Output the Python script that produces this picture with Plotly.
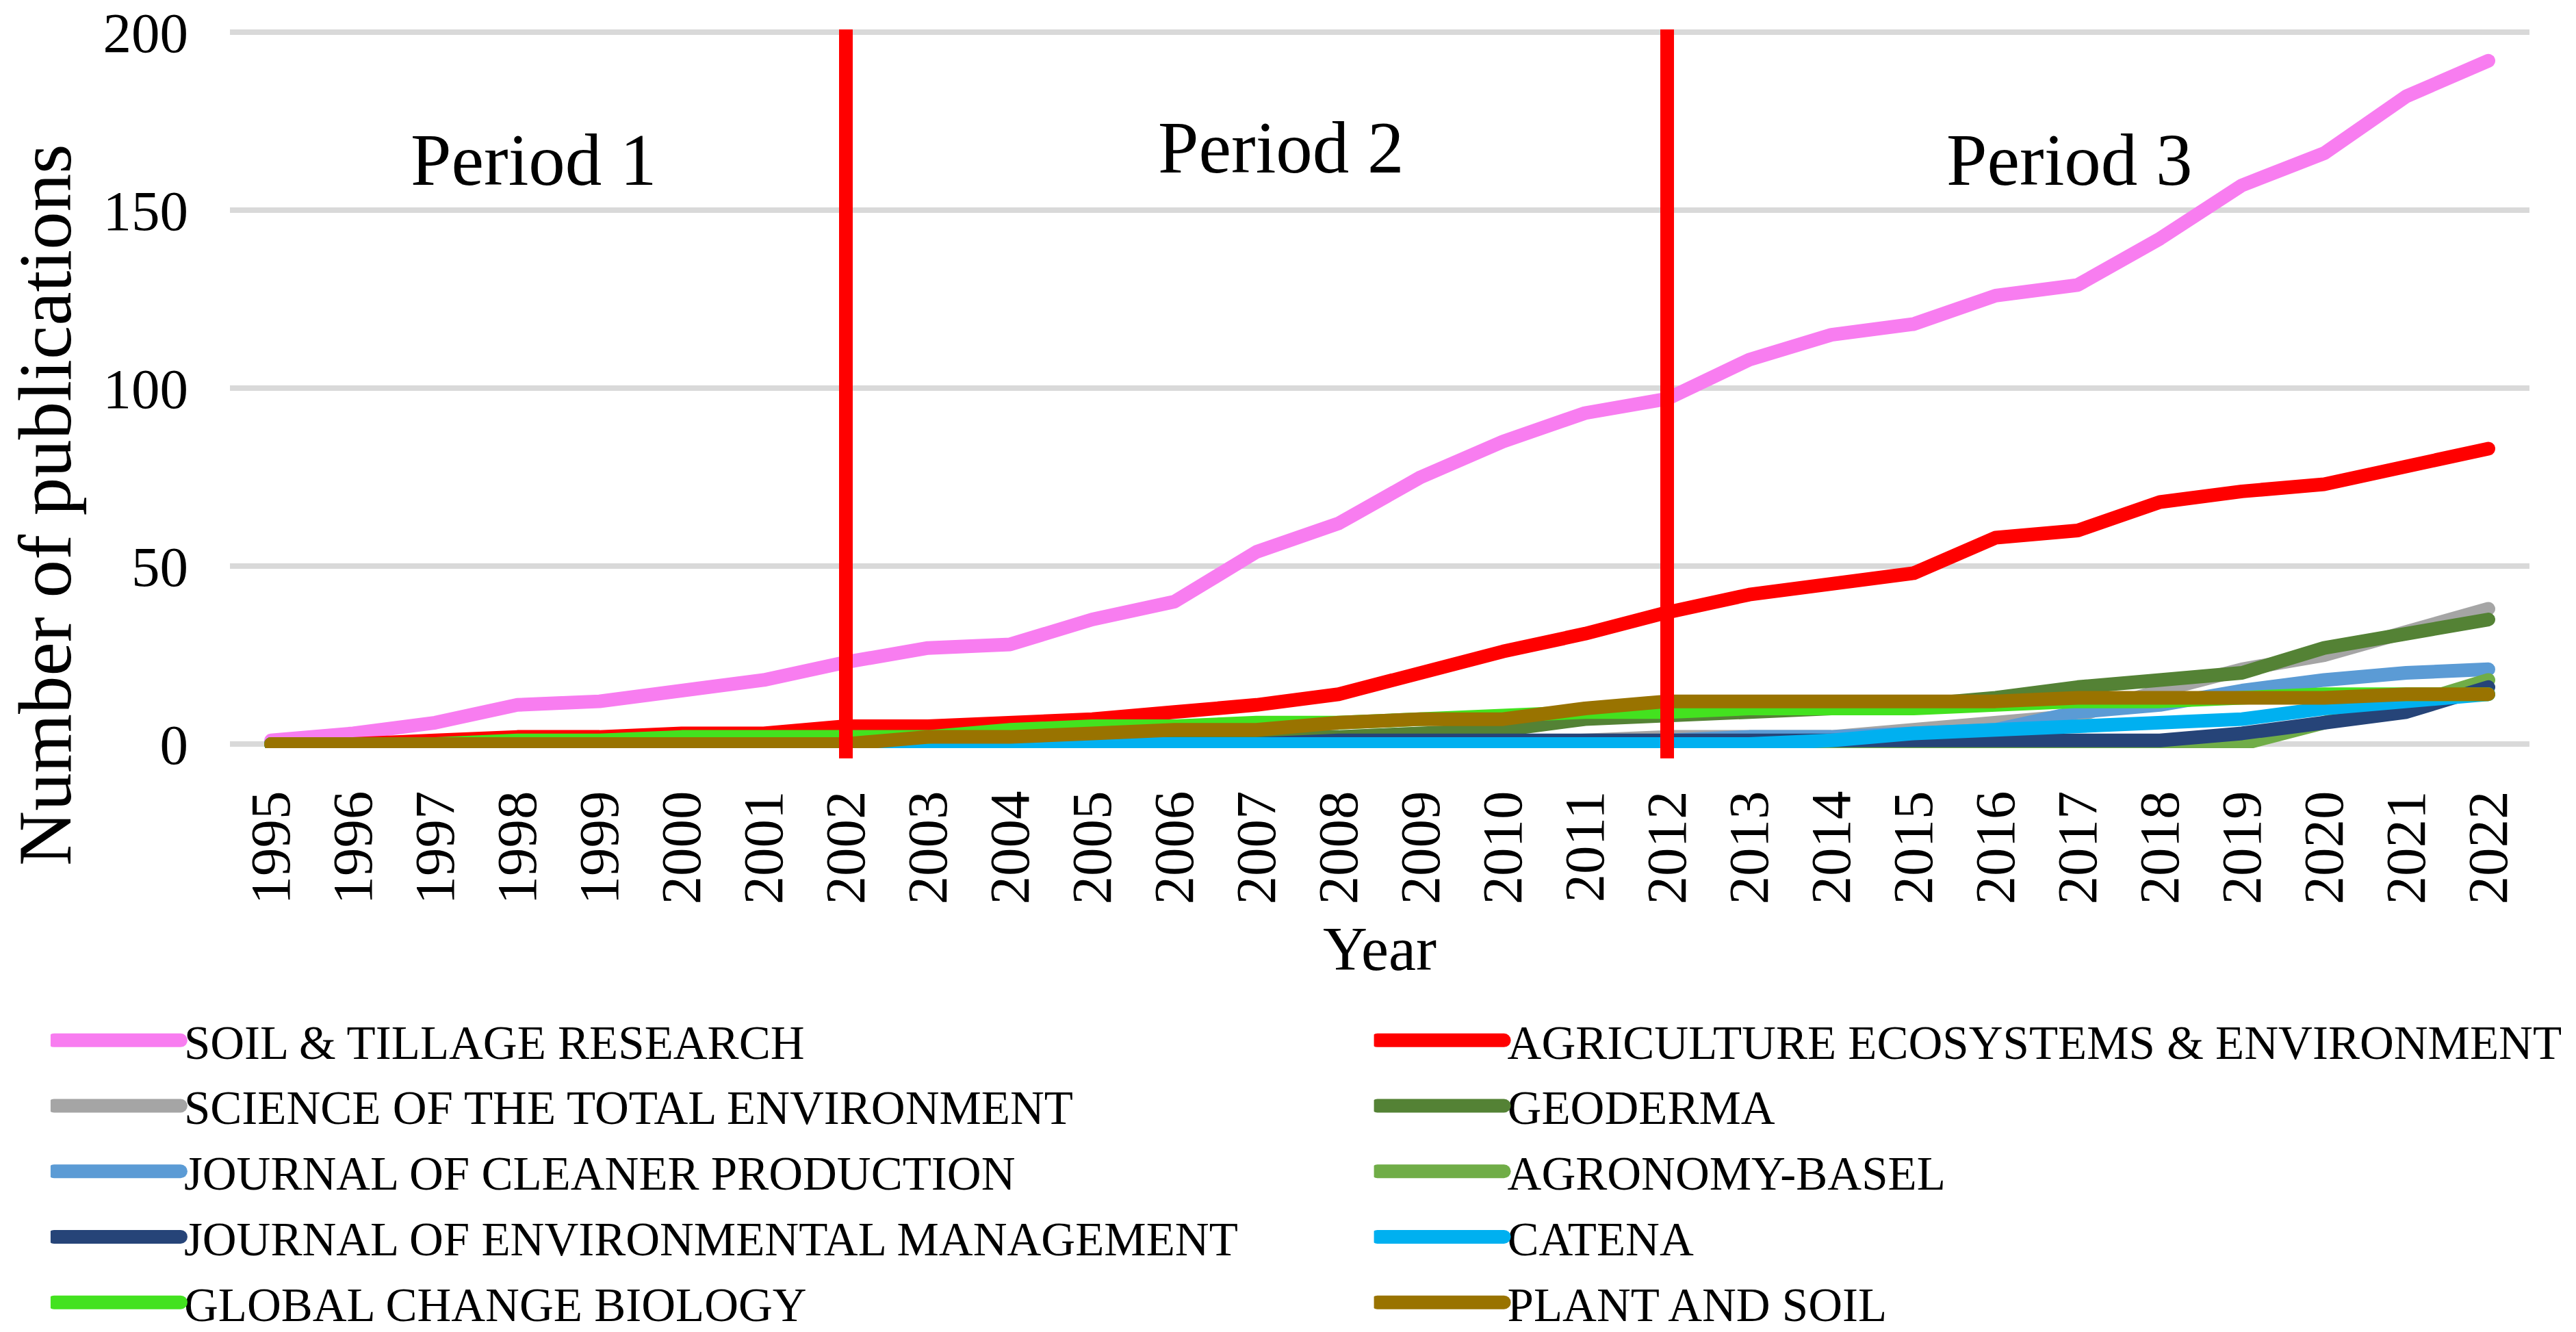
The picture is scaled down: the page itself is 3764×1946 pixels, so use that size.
import plotly.graph_objects as go

# years on the category axis
years = [1995, 1996, 1997, 1998, 1999, 2000, 2001, 2002, 2003, 2004, 2005, 2006, 2007, 2008,
         2009, 2010, 2011, 2012, 2013, 2014, 2015, 2016, 2017, 2018, 2019, 2020, 2021, 2022]

# publications per journal
soil_tillage = [1, 3, 6, 11, 12, 15, 18, 23, 27, 28, 35, 40, 54, 62,
                75, 85, 93, 97, 108, 115, 118, 126, 129, 142, 157, 166, 182, 192]
agri_eco_env = [0, 0, 1, 2, 2, 3, 3, 5, 5, 6, 7, 9, 11, 14,
                20, 26, 31, 37, 42, 45, 48, 58, 60, 68, 71, 73, 78, 83]
sci_total_env = [0, 0, 0, 0, 0, 0, 0, 0, 0, 0, 0, 0, 0, 0,
                 0, 0, 1, 2, 2, 2, 4, 6, 8, 15, 21, 25, 32, 38]
geoderma = [0, 0, 0, 0, 0, 0, 0, 0, 0, 0, 1, 1, 2, 2,
            3, 4, 7, 8, 9, 10, 11, 13, 16, 18, 20, 27, 31, 35]
cleaner_prod = [0, 0, 0, 0, 0, 0, 0, 0, 0, 0, 0, 0, 0, 0,
                0, 0, 0, 1, 2, 2, 3, 4, 9, 11, 15, 18, 20, 21]
agronomy_basel = [0, 0, 0, 0, 0, 0, 0, 0, 0, 0, 0, 0, 0, 0,
                  0, 0, 0, 0, 0, 0, 0, 0, 0, 0, 0, 6, 11, 18]
env_management = [0, 0, 0, 0, 0, 0, 0, 0, 0, 0, 0, 0, 0, 1,
                  1, 1, 1, 1, 1, 1, 1, 1, 1, 1, 3, 6, 9, 16]
catena = [0, 0, 0, 0, 0, 0, 0, 0, 0, 0, 0, 0, 0, 0,
          0, 0, 0, 0, 0, 1, 3, 4, 5, 6, 7, 10, 12, 14]
global_change_bio = [0, 0, 0, 1, 1, 2, 2, 2, 2, 4, 5, 5, 6, 6,
                     7, 8, 9, 9, 10, 10, 10, 11, 12, 12, 13, 14, 14, 14]
plant_soil = [0, 0, 0, 0, 0, 0, 0, 0, 2, 2, 3, 4, 4, 6,
              7, 7, 10, 12, 12, 12, 12, 12, 13, 13, 13, 13, 14, 14]

journal_names = ["SOIL & TILLAGE RESEARCH", "AGRICULTURE ECOSYSTEMS & ENVIRONMENT",
                 "SCIENCE OF THE TOTAL ENVIRONMENT", "GEODERMA",
                 "JOURNAL OF CLEANER PRODUCTION", "AGRONOMY-BASEL",
                 "JOURNAL OF ENVIRONMENTAL MANAGEMENT", "CATENA",
                 "GLOBAL CHANGE BIOLOGY", "PLANT AND SOIL"]
journal_values = [soil_tillage, agri_eco_env, sci_total_env, geoderma, cleaner_prod,
                  agronomy_basel, env_management, catena, global_change_bio, plant_soil]
journal_colors = ["#F87DF0", "#FF0000", "#A5A5A5", "#548235", "#5B9BD5",
                  "#70AD47", "#264478", "#00B0F0", "#43E21F", "#997300"]

# period boundaries and labels
period_breaks = [2002, 2012]
period_labels = ["Period 1", "Period 2", "Period 3"]
period_label_x = [1998.2, 2007.3, 2016.9]
period_label_y = [164, 167.5, 164]

y_ticks = [0, 50, 100, 150, 200]

FONT = "Liberation Serif"

fig = go.Figure()

# draw the journals in legend order, two legend columns
for i, (name, vals, col) in enumerate(zip(journal_names, journal_values, journal_colors)):
    fig.add_trace(go.Scatter(x=years, y=vals, mode="lines", name=name,
                             line=dict(color=col, width=20),
                             legend="legend" if i % 2 == 0 else "legend2",
                             legendgroup=name))

# red period separators
for b in period_breaks:
    fig.add_shape(type="line", xref="x", yref="paper", x0=b, x1=b, y0=-0.0143, y1=1,
                  line=dict(color="#FF0000", width=20), layer="above")

for txt, px, py in zip(period_labels, period_label_x, period_label_y):
    fig.add_annotation(x=px, y=py, xref="x", yref="y", text=txt, showarrow=False,
                       font=dict(family=FONT, size=107, color="black"))

# y axis title sits lower than the plot centre, as in the original
fig.add_annotation(x=-0.0807, y=0.338, xref="paper", yref="paper",
                   xanchor="center", yanchor="middle",
                   text="Number of publications", textangle=-90, showarrow=False,
                   font=dict(family=FONT, size=111, color="black"))

legend_style = dict(orientation="v", yanchor="top", xanchor="left", y=-0.3576,
                    font=dict(family=FONT, size=69, color="black"),
                    itemwidth=185, traceorder="grouped", tracegroupgap=3,
                    bgcolor="rgba(0,0,0,0)", borderwidth=0)

fig.update_layout(
    width=3764, height=1946,
    margin=dict(l=336, r=68, t=43, b=853, autoexpand=False),
    plot_bgcolor="white", paper_bgcolor="white",
    font=dict(family=FONT, color="black"),
    showlegend=True,
    legend=dict(x=-0.078, **legend_style),
    legend2=dict(x=0.4975, **legend_style),
    xaxis=dict(range=[1994.5, 2022.5], tickmode="array", tickvals=years,
               ticktext=[str(y) for y in years], tickangle=-90,
               tickfont=dict(family=FONT, size=83, color="black"),
               showgrid=False, zeroline=False, showline=False, ticks="",
               ticklabelstandoff=45, automargin=False,
               title=dict(text="Year", font=dict(family=FONT, size=90, color="black"),
                          standoff=33)),
    yaxis=dict(range=[-1.15, 200.8], tickmode="array", tickvals=y_ticks,
               tickfont=dict(family=FONT, size=83, color="black"),
               showgrid=True, gridcolor="#D9D9D9", gridwidth=8, automargin=False,
               zeroline=False, showline=False, ticks="", ticklabelstandoff=60),
)

# thicker, round-ended legend keys like the original
post = """
document.body.style.margin = '0';
document.querySelectorAll('g.legendlines path').forEach(function(p) {
    p.style.strokeWidth = '20px';
    p.style.strokeLinecap = 'round';
});
document.querySelectorAll('g.scatterlayer path.js-line').forEach(function(p) {
    p.style.strokeLinecap = 'round';
    p.style.strokeLinejoin = 'round';
});
"""

fig.write_html("out.html", config={"displayModeBar": False}, post_script=post)
